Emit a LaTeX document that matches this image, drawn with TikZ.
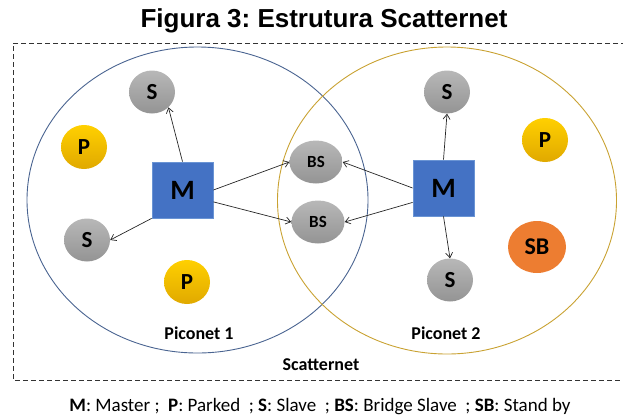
\documentclass[tikz,border=0pt]{standalone}
\usepackage{fontspec}
\setmainfont{Carlito}
\newfontfamily\headfont{Liberation Sans}
\usetikzlibrary{shapes.geometric,arrows.meta}
\frenchspacing

\definecolor{pico1}{HTML}{4A6491}
\definecolor{pico2}{HTML}{C9A232}
\definecolor{masterblue}{HTML}{4472C4}
\definecolor{masteredge}{HTML}{6A94D4}
\definecolor{parkgold}{HTML}{FFC000}
\definecolor{standby}{HTML}{ED7D31}

\tikzset{
  devnode/.style={ellipse, inner sep=0pt, font=\bfseries, text=black},
  slavenode/.style={devnode, minimum width=46pt, minimum height=43pt,
    top color=black!28, bottom color=black!42, font=\fontsize{23}{23}\selectfont\bfseries},
  bridgenode/.style={devnode, minimum width=53pt, minimum height=43pt,
    top color=black!28, bottom color=black!42, font=\fontsize{17}{17}\selectfont\bfseries},
  parknode/.style={devnode, minimum width=46pt, minimum height=44pt,
    top color=parkgold!75!yellow, bottom color=parkgold!88!black, font=\fontsize{23}{23}\selectfont\bfseries},
  sbnode/.style={devnode, minimum width=58pt, minimum height=52pt,
    fill=standby, font=\fontsize{24}{24}\selectfont\bfseries},
  masternode/.style={rectangle, inner sep=0pt, minimum width=61pt, minimum height=56pt,
    fill=masterblue, draw=masteredge, line width=0.8pt,
    font=\fontsize{28}{28}\selectfont\bfseries, text=black},
  link/.style={draw=black!85, line width=0.7pt, -{Straight Barb[length=5pt,width=7pt]}},
  caption/.style={font=\fontsize{18}{18}\selectfont\bfseries, text=black},
}

\begin{document}
\begin{tikzpicture}[x=1pt,y=-1pt]
  \useasboundingbox (0,0) rectangle (623,416);

  % title
  \node[font=\headfont\fontsize{26}{26}\selectfont\bfseries, anchor=base] (title) at (324,27) {Figura 3: Estrutura Scatternet};

  % scatternet frame
  \draw[black!80, line width=0.8pt, dash pattern=on 5pt off 3pt] (626,43) -- (13,43) -- (13,380) -- (626,380);

  % the two piconets
  \draw[pico1, line width=0.9pt] (197.5,200) ellipse [x radius=170.5, y radius=153];
  \draw[pico2, line width=0.9pt] (447,200.5) ellipse [x radius=169.5, y radius=153.5];

  % piconet 1
  \node[masternode] (M1) at (182.5,190) {M};
  \node[slavenode] (S1) at (152,92) {S};
  \node[slavenode] (S2) at (87,240) {S};
  \node[parknode] (P1) at (84,147) {P};
  \node[parknode] (P2) at (187,282) {P};

  % bridge slaves shared by both piconets
  \node[bridgenode] (BS1) at (316,162) {BS};
  \node[bridgenode] (BS2) at (318,222) {BS};

  % piconet 2
  \node[masternode] (M2) at (443.5,188) {M};
  \node[slavenode] (S3) at (447,92) {S};
  \node[slavenode] (S4) at (450,280) {S};
  \node[parknode] (P3) at (545,140) {P};
  \node[sbnode] (SB) at (537,247) {SB};

  % master-to-slave links
  \draw[link] (M1.north) -- (S1.south east);
  \draw[link] (M1.south west) -- (S2.east);
  \draw[link] (M1.east) -- (BS1.west);
  \draw[link] (M1.-21) -- (BS2.west);
  \draw[link] (M2.west) -- (BS1.east);
  \draw[link] (M2.205) -- (BS2.east);
  \draw[link] (M2.north) -- (S3.south);
  \draw[link] (M2.south) -- (S4.north);

  % labels
  \node[caption] (L1) at (199,333) {Piconet 1};
  \node[caption] (L2) at (446,333) {Piconet 2};
  \node[caption] (L3) at (321,365) {Scatternet};

  % legend
  \node[font=\fontsize{19}{19}\selectfont, anchor=base] (legend) at (320,411)
    {\textbf{M}: Master ;\ \ \textbf{P}: Parked\ \ ; \textbf{S}: Slave\ \ ; \textbf{BS}: Bridge Slave\ \ ; \textbf{SB}: Stand by};
\end{tikzpicture}
\end{document}
